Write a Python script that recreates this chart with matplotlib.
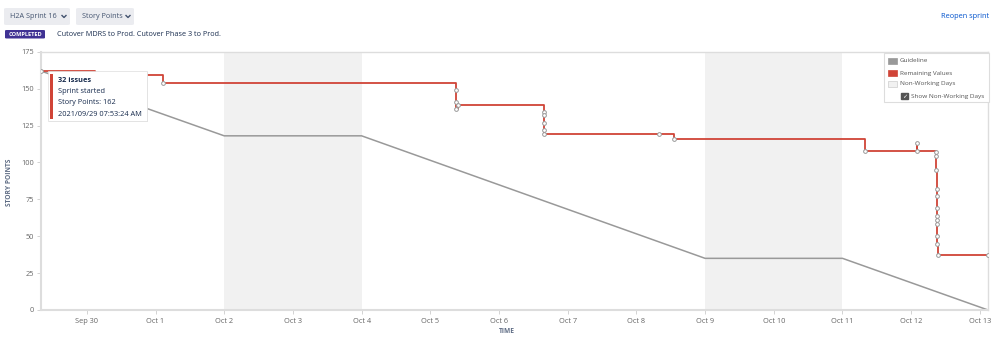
import matplotlib
matplotlib.use("Agg")
import matplotlib.pyplot as plt
from matplotlib.patches import Rectangle, FancyBboxPatch
from matplotlib.lines import Line2D
from datetime import datetime

plt.rcParams['font.family'] = ['Open Sans', 'DejaVu Sans']

# guideline (ideal burndown)
guide_times = ["2021-09-29 07:53", "2021-10-02 00:00", "2021-10-04 00:00",
               "2021-10-09 00:00", "2021-10-11 00:00", "2021-10-13 02:50"]
guide_values = [162, 118, 118, 35, 35, 0]

# remaining story points, one entry per change
remaining_times = [
    "2021-09-29 07:53", "2021-09-30 02:48", "2021-10-01 02:30",
    "2021-10-05 09:00", "2021-10-05 09:01", "2021-10-05 09:02", "2021-10-05 09:45",
    "2021-10-06 15:36", "2021-10-06 15:37", "2021-10-06 15:38", "2021-10-06 15:39", "2021-10-06 15:40",
    "2021-10-08 08:00", "2021-10-08 13:00",
    "2021-10-11 07:44",
    "2021-10-12 02:10", "2021-10-12 02:11",
    "2021-10-12 08:48", "2021-10-12 08:49", "2021-10-12 08:50", "2021-10-12 08:51",
    "2021-10-12 08:52", "2021-10-12 08:53", "2021-10-12 08:54", "2021-10-12 08:55",
    "2021-10-12 08:56", "2021-10-12 08:57", "2021-10-12 08:58",
    "2021-10-12 09:22", "2021-10-13 02:50"]
remaining_values = [
    162, 159, 154,
    149, 141, 136, 139,
    134, 132, 127, 122, 119,
    119, 116,
    108,
    113, 108,
    107, 104, 95, 82, 77, 69, 64, 61, 58, 50, 45,
    37, 37]

# non-working days
nonwork_start = ["2021-10-02", "2021-10-09"]
nonwork_end = ["2021-10-04", "2021-10-11"]

day_ticks = ["2021-09-30", "2021-10-01", "2021-10-02", "2021-10-03", "2021-10-04",
             "2021-10-05", "2021-10-06", "2021-10-07", "2021-10-08", "2021-10-09",
             "2021-10-10", "2021-10-11", "2021-10-12", "2021-10-13"]
day_labels = ["Sep 30", "Oct 1", "Oct 2", "Oct 3", "Oct 4", "Oct 5", "Oct 6",
              "Oct 7", "Oct 8", "Oct 9", "Oct 10", "Oct 11", "Oct 12", "Oct 13"]
y_ticks = [0, 25, 50, 75, 100, 125, 150, 175]


def to_dt(lst, fmt="%Y-%m-%d %H:%M"):
    return [datetime.strptime(s, fmt) for s in lst]


W, H = 999, 337
fig = plt.figure(figsize=(W / 100, H / 100), dpi=100)


def fx(x):
    return x / W


def fy(y):
    return 1 - y / H


ax = fig.add_axes([fx(40.7), fy(310), fx(988) - fx(40.7), fy(51.7) - fy(310)])

for s, e in zip(to_dt(nonwork_start, "%Y-%m-%d"), to_dt(nonwork_end, "%Y-%m-%d")):
    ax.axvspan(s, e, color="#f1f1f1", lw=0, zorder=0)

ax.plot(to_dt(guide_times), guide_values, color="#999999", lw=1.1, zorder=2)
rt = to_dt(remaining_times)
ax.plot(rt, remaining_values, drawstyle="steps-post", color="#d04437", lw=1.3, zorder=3)
ax.plot(rt, remaining_values, ls="none", marker="o", ms=2.7, mfc="white",
        mec="#999999", mew=0.7, zorder=4)

ax.set_xlim(datetime(2021, 9, 29, 7, 53), datetime(2021, 10, 13, 2, 50))
ax.set_ylim(0, 175)
ax.set_xticks(to_dt(day_ticks, "%Y-%m-%d"))
ax.set_xticklabels(day_labels)
ax.set_yticks(y_ticks)
ax.tick_params(axis="both", labelsize=5.3, colors="#cccccc", labelcolor="#666666",
               length=3, width=0.6, pad=2)
ax.tick_params(axis="x", pad=3)
for sp in ax.spines.values():
    sp.set_color("#dddddd")
    sp.set_linewidth(1)
ax.spines["left"].set_linewidth(1.5)
ax.spines["bottom"].set_linewidth(1.5)

fig.text(fx(10), fy(182), "STORY POINTS", rotation=90, ha="center", va="center",
         fontsize=4.8, fontweight="bold", color="#5e6c84")
fig.text(fx(507), fy(331.5), "TIME", ha="center", va="center",
         fontsize=4.8, fontweight="bold", color="#5e6c84")

# header controls
for x0, x1, label in [(4, 70, "H2A Sprint 16"), (76, 134, "Story Points")]:
    fig.patches.append(FancyBboxPatch((fx(x0), fy(25)), fx(x1 - x0), fy(8) - fy(25),
                                      boxstyle="round,pad=0,rounding_size=0.003",
                                      transform=fig.transFigure, fc="#ebecf0", ec="none"))
    fig.text(fx(x0 + 6), fy(16.5), label, ha="left", va="center",
             fontsize=5.2, color="#42526e")
    cx = x1 - 6
    fig.lines.append(Line2D([fx(cx - 2), fx(cx), fx(cx + 2)], [fy(15.5), fy(17.5), fy(15.5)],
                            transform=fig.transFigure, color="#42526e", lw=1.0))
fig.patches.append(FancyBboxPatch((fx(5), fy(38.5)), fx(40), fy(30) - fy(38.5),
                                  boxstyle="round,pad=0,rounding_size=0.002",
                                  transform=fig.transFigure, fc="#403294", ec="none"))
fig.text(fx(25), fy(34.3), "COMPLETED", ha="center", va="center", fontsize=4.1,
         fontweight="bold", color="white")
fig.text(fx(57), fy(34.3), "Cutover MDRS to Prod. Cutover Phase 3 to Prod.",
         ha="left", va="center", fontsize=5.2, color="#172b4d")
fig.text(fx(989), fy(17), "Reopen sprint", ha="right", va="center", fontsize=5.3,
         color="#0052cc")

# legend box
fig.patches.append(Rectangle((fx(884), fy(102)), fx(105), fy(53) - fy(102),
                             transform=fig.transFigure, fc="white", ec="#dddddd", lw=0.8, zorder=5))
for yy, c, label in [(61, "#999999", "Guideline"), (73, "#d04437", "Remaining Values"),
                     (84, "#f1f1f1", "Non-Working Days")]:
    fig.patches.append(Rectangle((fx(888), fy(yy + 3)), fx(9), fy(yy - 3) - fy(yy + 3),
                                 transform=fig.transFigure, fc=c,
                                 ec="#cccccc" if c == "#f1f1f1" else c, lw=0.5, zorder=6))
    fig.text(fx(900), fy(yy), label, ha="left", va="center", fontsize=4.6, color="#555555", zorder=6)
fig.patches.append(Rectangle((fx(901), fy(99.5)), fx(6.5), fy(93) - fy(99.5),
                             transform=fig.transFigure, fc="#555555", ec="#555555", zorder=6))
fig.text(fx(904.2), fy(96.2), "\u2713", ha="center", va="center", fontsize=4.5,
         color="white", family="DejaVu Sans", zorder=7)
fig.text(fx(911), fy(96), "Show Non-Working Days", ha="left", va="center",
         fontsize=4.6, color="#555555", zorder=6)

# tooltip
fig.patches.append(Rectangle((fx(49), fy(122)), fx(99), fy(72) - fy(122),
                             transform=fig.transFigure, fc="#cccccc", ec="none", alpha=0.5, zorder=7))
fig.patches.append(Rectangle((fx(48), fy(121)), fx(99), fy(71) - fy(121),
                             transform=fig.transFigure, fc="white", ec="#dddddd", lw=0.5, zorder=8))
fig.patches.append(Rectangle((fx(49.5), fy(119)), fx(3.5), fy(74) - fy(119),
                             transform=fig.transFigure, fc="#d04437", ec="none", zorder=9))
tip_lines = ["32 issues", "Sprint started", "Story Points: 162", "2021/09/29 07:53:24 AM"]
for i, line in enumerate(tip_lines):
    fig.text(fx(58), fy(80.5 + i * 11.2), line, ha="left", va="center", fontsize=5.3,
             color="#172b4d", fontweight="bold" if i == 0 else "normal", zorder=10)

fig.savefig("out.png", dpi=100)
